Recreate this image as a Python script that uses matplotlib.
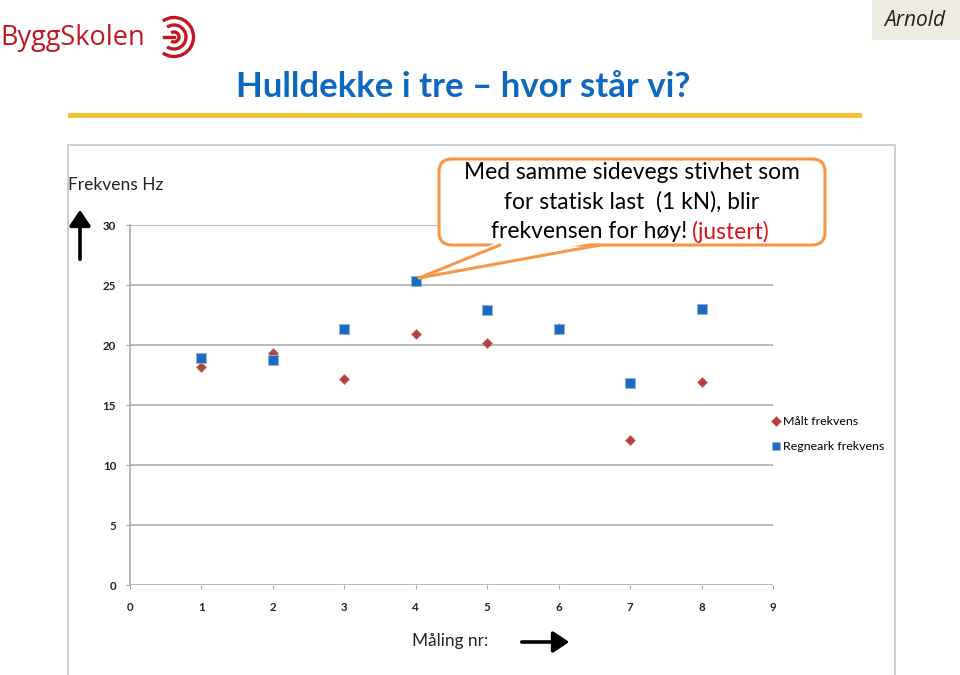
import matplotlib
matplotlib.use('Agg')
import matplotlib.pyplot as plt
from matplotlib.patches import Rectangle, FancyBboxPatch, Polygon, Arc, FancyArrowPatch
from matplotlib.lines import Line2D

# data
maaling = [1, 2, 3, 4, 5, 6, 7, 8]
maalt_frekvens = [18.2, 19.35, 17.15, 20.9, 20.2, 21.4, 12.1, 16.9]
regneark_frekvens = [18.9, 18.75, 21.35, 25.3, 22.9, 21.35, 16.8, 23.0]
xticks = list(range(0, 10))
yticks = list(range(0, 35, 5))

W, H = 960, 675
plt.rcParams['font.family'] = ['Lato', 'DejaVu Sans']

fig = plt.figure(figsize=(W / 100, H / 100), dpi=100)
fig.patch.set_facecolor('white')
inch = fig.dpi_scale_trans


def P(x, y):
    # pixel (from top-left) -> inches for dpi_scale_trans
    return x / 100, (H - y) / 100


# chart frame
fig.patches.append(Rectangle(P(68, 680), 827 / 100, 535 / 100, transform=inch,
                             fill=False, edgecolor='#c4c8cc', lw=1.2, zorder=0))

ax = fig.add_axes([130 / W, 1 - 585 / H, 643 / W, 360 / H])
ax.set_zorder(1)
ax.patch.set_alpha(0)
ax.set_xlim(0, 9)
ax.set_ylim(0, 30)
ax.set_xticks(xticks)
ax.set_yticks(yticks)
ax.grid(axis='y', color='#a6a6a6', lw=1.1)
ax.set_axisbelow(True)
for s in ['top', 'right', 'bottom']:
    ax.spines[s].set_visible(False)
ax.spines['left'].set_color('#a6a6a6')
ax.spines['left'].set_linewidth(1.1)
ax.tick_params(axis='both', direction='out', length=3, color='#a6a6a6',
               labelsize=8.3, labelcolor='#222222')
ax.tick_params(axis='y', pad=7)
ax.tick_params(axis='x', pad=9)
for lab in ax.get_xticklabels() + ax.get_yticklabels():
    lab.set_fontweight('bold')

ax.plot(maaling, maalt_frekvens, linestyle='none', marker='D', markersize=5.5,
        color='#b5403b', markeredgecolor='#c9706b', markeredgewidth=0.5,
        label='Målt frekvens', clip_on=False, zorder=5)
ax.plot(maaling, regneark_frekvens, linestyle='none', marker='s', markersize=6.5,
        color='#1b6cc0', markeredgecolor='#8fb3dc', markeredgewidth=0.6,
        label='Regneark frekvens', clip_on=False, zorder=6)

leg = ax.legend(loc='upper left', bbox_to_anchor=(772 / W, 1 - 416 / H),
                bbox_transform=fig.transFigure, frameon=False, fontsize=8.9,
                handlelength=0.6, handletextpad=0.3, labelspacing=1.15,
                borderaxespad=0, borderpad=0, markerscale=0.85)

# axis captions with arrows
fig.text(68 / W, 1 - 185 / H, 'Frekvens Hz', fontsize=12.5, va='center', ha='left',
         color='#222222')
fig.patches.append(FancyArrowPatch(
    P(80, 262), P(80, 207), transform=inch, arrowstyle='-|>,head_length=6,head_width=4',
    mutation_scale=1.6, lw=2.6, color='black'))
fig.text(412 / W, 1 - 641 / H, 'Måling nr:', fontsize=12.4, va='center', ha='left',
         color='#222222')
fig.patches.append(FancyArrowPatch(
    P(519, 642), P(572, 642), transform=inch, arrowstyle='-|>,head_length=6,head_width=4',
    mutation_scale=1.6, lw=2.6, color='black'))

# title + yellow rule
fig.text(236 / W, 1 - 87 / H, 'Hulldekke i tre – hvor står vi?', fontsize=25,
         fontweight='bold', color='#0d68c0', va='center', ha='left')
fig.add_artist(Line2D([70 / W, 859 / W], [1 - 115 / H, 1 - 115 / H], color='#f2c12e',
                      lw=3.5))

# logo
fig.text(0, 1 - 38 / H, 'ByggSkolen', fontsize=19.5, color='#c0181e', va='center',
         ha='left', family=['Open Sans', 'DejaVu Sans'])
for r in [5, 12, 19.5]:
    fig.patches.append(Arc(P(174, 37), 2 * r / 100, 2 * r / 100, theta1=-125, theta2=125,
                           transform=inch, color='#c0181e', lw=2.4))
fig.add_artist(Line2D([164 / W, 174 / W], [1 - 37 / H, 1 - 37 / H], color='#c0181e', lw=2.4))

# name tag
fig.patches.append(Rectangle(P(872, 40), 88 / 100, 40 / 100, transform=inch,
                             facecolor='#eeece1', edgecolor='none'))
fig.text(915 / W, 1 - 20 / H, 'Arnold', fontsize=15, style='italic', color='#222222',
         va='center', ha='center', family=['Open Sans', 'DejaVu Sans'])

# callout
orange = '#f79646'
box_x0, box_y0, box_x1, box_y1 = 439, 159, 825, 245
fig.patches.append(FancyBboxPatch(P(box_x0, box_y1), (box_x1 - box_x0) / 100,
                                  (box_y1 - box_y0) / 100, transform=inch,
                                  boxstyle='round,pad=0,rounding_size=0.13',
                                  facecolor='white', edgecolor=orange, lw=2.2, zorder=3))
tip = (419, 278)
fig.patches.append(Polygon([P(*tip), P(500, 241), P(600, 241)], closed=True,
                           transform=inch, facecolor='white', edgecolor='none', zorder=3.2))
for bx in (500, 600):
    fig.add_artist(Line2D([tip[0] / 100, bx / 100], [(H - tip[1]) / 100, (H - box_y1) / 100],
                          transform=inch, color=orange, lw=2.2, zorder=3.5,
                          solid_capstyle='round'))

cfs = 16.4
fig.text(632 / W, 1 - 173 / H, 'Med samme sidevegs stivhet som', fontsize=cfs,
         ha='center', va='center', color='black', zorder=4)
fig.text(632 / W, 1 - 202 / H, 'for statisk last  (1 kN), blir', fontsize=cfs,
         ha='center', va='center', color='black', zorder=4)
fig.text(687 / W, 1 - 232 / H, 'frekvensen for høy!', fontsize=cfs,
         ha='right', va='center', color='black', zorder=4)
fig.text(692 / W, 1 - 232 / H, '(justert)', fontsize=cfs,
         ha='left', va='center', color='#e0101a', zorder=4)

fig.savefig('out.png', dpi=100, facecolor='white')
